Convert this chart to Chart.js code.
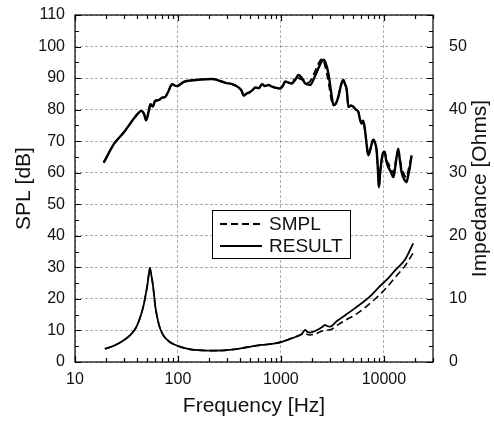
<!DOCTYPE html>
<html><head><meta charset="utf-8">
<script src="https://cdn.jsdelivr.net/npm/chart.js@4.4.1/dist/chart.umd.min.js"></script>
<style>html,body{margin:0;padding:0;background:#fff}</style>
</head><body>
<canvas id="c" width="494" height="421"></canvas>
<script>
// ---- data ----
const splFreq = [19, 24, 30, 37, 41, 44, 47, 49, 52, 54, 57, 60, 65, 70, 75, 80, 85, 88, 93, 98, 105, 114, 130, 160, 215, 260, 290, 335, 390, 415, 435, 460, 490, 530, 565, 610, 655, 700, 760, 820, 880, 985, 1040, 1100, 1180, 1280, 1380, 1480, 1600, 1720, 1830, 1920, 2100, 2310, 2480, 2590, 2700, 2890, 3120, 3240, 3400, 3615, 3850, 4045, 4200, 4360, 4520, 4800, 5050, 5350, 5650, 5850, 6085, 6300, 6555, 6800, 7060, 7400, 7890, 8200, 8500, 8750, 8950, 9200, 9500, 9850, 10240, 10600, 11040, 11600, 12340, 12800, 13290, 13790, 14300, 14860, 15700, 16600, 17200, 17890, 18560];
const splResult = [63.2, 69.2, 72.9, 77.0, 78.8, 79.6, 78.5, 76.6, 79.5, 81.7, 81.0, 82.8, 83.0, 83.8, 84.0, 85.5, 87.5, 88.1, 87.6, 87.5, 88.0, 88.8, 89.2, 89.5, 89.7, 89.0, 88.5, 88.1, 87.0, 86.0, 84.4, 85.0, 85.4, 86.2, 87.0, 86.8, 88.1, 87.5, 87.8, 87.3, 87.0, 86.7, 87.5, 88.9, 88.6, 88.3, 89.5, 91.0, 90.0, 88.3, 88.0, 87.8, 90.0, 93.1, 95.2, 95.8, 95.0, 91.5, 84.1, 81.4, 81.8, 84.1, 88.0, 89.4, 88.0, 86.2, 80.9, 81.3, 80.9, 80.0, 79.3, 77.0, 75.6, 76.5, 73.5, 69.0, 65.5, 67.5, 70.5, 69.5, 67.1, 61.0, 55.4, 60.0, 63.9, 66.5, 66.0, 63.5, 61.8, 60.5, 58.6, 61.0, 65.0, 67.6, 64.0, 60.2, 58.0, 57.0, 59.0, 61.8, 65.5];
const splSmpl   = [63.2, 69.2, 72.9, 77.0, 78.8, 79.6, 78.5, 76.6, 79.5, 81.7, 81.0, 82.8, 83.0, 83.8, 84.0, 85.5, 87.5, 88.1, 87.6, 87.5, 88.0, 88.8, 89.2, 89.5, 89.7, 89.0, 88.5, 88.1, 87.0, 86.0, 84.4, 85.0, 85.4, 86.2, 87.0, 86.8, 88.1, 87.5, 87.8, 87.3, 87.0, 86.7, 87.5, 88.9, 88.6, 88.3, 90.2, 90.0, 89.5, 89.5, 88.5, 89.0, 91.5, 94.5, 96.0, 95.5, 93.5, 89.0, 82.5, 81.4, 81.8, 84.1, 88.0, 89.4, 88.0, 86.2, 80.9, 81.3, 80.9, 80.0, 79.3, 77.0, 75.6, 76.5, 73.5, 69.0, 65.5, 67.5, 70.5, 69.5, 67.1, 61.0, 55.4, 60.0, 63.9, 66.5, 66.8, 64.0, 63.0, 61.5, 60.0, 62.0, 65.5, 66.5, 64.5, 61.5, 59.5, 58.5, 60.5, 63.0, 65.0];

const impFreq = [19.5, 24, 28.8, 33, 36, 39, 41.7, 44, 46.6, 48.5, 50.3, 52, 53.3, 54.5, 57, 60.5, 64, 67.6, 73, 81.5, 90, 102, 120, 137, 170, 214, 270, 335, 420, 523, 650, 816, 1000, 1185, 1400, 1597, 1718, 1800, 1923, 2200, 2500, 2687, 2800, 3005, 3500, 4200, 5250, 6300, 7605, 9000, 11040, 13000, 16000, 19270];
const impResult = [2.07, 2.6, 3.29, 4.0, 4.62, 5.4, 6.48, 7.6, 9.13, 10.6, 12.05, 13.8, 14.9, 14.2, 12.3, 8.6, 6.5, 5.15, 4.1, 3.29, 2.85, 2.49, 2.15, 1.96, 1.85, 1.80, 1.82, 1.96, 2.2, 2.49, 2.7, 2.87, 3.15, 3.56, 4.0, 4.46, 5.09, 4.8, 4.66, 5.0, 5.5, 5.88, 5.7, 5.61, 6.5, 7.4, 8.54, 9.5, 10.65, 11.9, 13.3, 14.6, 16.2, 18.8];
const impSmpl   = [2.07, 2.6, 3.29, 4.0, 4.62, 5.4, 6.48, 7.6, 9.13, 10.6, 12.05, 13.8, 14.9, 14.2, 12.3, 8.6, 6.5, 5.15, 4.1, 3.29, 2.85, 2.49, 2.15, 1.96, 1.85, 1.80, 1.82, 1.96, 2.2, 2.49, 2.7, 2.87, 3.15, 3.56, 4.0, 4.4, 4.6, 4.35, 4.29, 4.5, 4.9, 5.0, 5.05, 5.1, 5.8, 6.6, 7.47, 8.4, 9.5, 10.6, 12.1, 13.5, 15.2, 17.3];

const seriesLabels = ['SMPL', 'RESULT'];
const xMajorTicks = [10, 100, 1000, 10000];
const xTickLabels = ['10', '100', '1000', '10000'];
const splTicks = [0, 10, 20, 30, 40, 50, 60, 70, 80, 90, 100, 110];
const impTicks = [0, 10, 20, 30, 40, 50];
const xTitle = 'Frequency [Hz]';
const yTitle = 'SPL [dB]';
const y2Title = 'Impedance [Ohms]';

// ---- chart ----
const FONT = "'Liberation Sans', Arial, sans-serif";
Chart.defaults.font.family = FONT;
Chart.defaults.color = '#111';
const GRID = 'rgba(120,120,120,0.6)';
const toXY = (xs, ys) => xs.map((x, i) => ({x, y: ys[i]}));

// all x tick positions: 1..9 times each decade between 10 and 30000
const xAllTicks = [];
for (let d = 10; d <= 10000; d *= 10) for (let m = 1; m <= 9; m++) { const v = m * d; if (v <= 30000) xAllTicks.push(v); }

const frame = {
  id: 'frame',
  afterDatasetsDraw(chart) {
    const {ctx, chartArea: a, scales} = chart;
    ctx.save();
    ctx.strokeStyle = '#000'; ctx.lineWidth = 1.2;
    ctx.strokeRect(a.left, a.top, a.right - a.left, a.bottom - a.top);
    ctx.beginPath();
    xAllTicks.forEach(v => {
      const px = Math.round(scales.x.getPixelForValue(v)) + 0.5;
      const len = xMajorTicks.includes(v) ? 6 : 4;
      ctx.moveTo(px, a.bottom); ctx.lineTo(px, a.bottom - len);
      ctx.moveTo(px, a.top); ctx.lineTo(px, a.top + len);
    });
    for (let v = 0; v <= 110; v += 5) {
      const py = Math.round(scales.y.getPixelForValue(v)) + 0.5;
      const len = v % 10 === 0 ? 6 : 4;
      ctx.moveTo(a.left, py); ctx.lineTo(a.left + len, py);
      ctx.moveTo(a.right, py); ctx.lineTo(a.right - len, py);
    }
    ctx.stroke();
    // right axis title, read bottom-to-top
    ctx.fillStyle = '#111';
    ctx.font = '21px ' + FONT;
    ctx.textAlign = 'center'; ctx.textBaseline = 'middle';
    ctx.translate(480, (a.top + a.bottom) / 2);
    ctx.rotate(-Math.PI / 2);
    ctx.fillText(y2Title, 0, 0);
    ctx.restore();
    // legend box
    ctx.save();
    const bx = 212.5, by = 210.5, bw = 138, bh = 48;
    ctx.fillStyle = '#fff'; ctx.fillRect(bx, by, bw, bh);
    ctx.strokeStyle = '#000'; ctx.lineWidth = 1; ctx.strokeRect(bx, by, bw, bh);
    const rows = [{ds: chart.data.datasets[1], y: 224}, {ds: chart.data.datasets[0], y: 246}];
    rows.forEach(r => {
      ctx.beginPath();
      ctx.setLineDash(r.ds.borderDash || []);
      ctx.lineWidth = 1.8; ctx.strokeStyle = '#000';
      ctx.moveTo(220, r.y); ctx.lineTo(262, r.y); ctx.stroke();
      ctx.setLineDash([]);
      ctx.fillStyle = '#111'; ctx.font = '19px ' + FONT;
      ctx.textAlign = 'left'; ctx.textBaseline = 'middle';
      ctx.fillText(r.ds.label, 269, r.y + 1);
    });
    ctx.restore();
  }
};

new Chart(document.getElementById('c'), {
  type: 'line',
  data: {
    datasets: [
      {label: seriesLabels[1], data: toXY(splFreq, splResult), yAxisID: 'y', borderColor: '#000', borderWidth: 2.4},
      {label: seriesLabels[0], data: toXY(splFreq, splSmpl), yAxisID: 'y', borderColor: '#000', borderWidth: 1.8, borderDash: [7, 4]},
      {label: seriesLabels[1], data: toXY(impFreq, impResult), yAxisID: 'y2', borderColor: '#000', borderWidth: 1.8},
      {label: seriesLabels[0], data: toXY(impFreq, impSmpl), yAxisID: 'y2', borderColor: '#000', borderWidth: 1.6, borderDash: [7, 4]}
    ]
  },
  options: {
    responsive: false, animation: false, devicePixelRatio: 1,
    layout: {padding: {top: 15, left: 0, right: 0, bottom: 0}},
    plugins: {legend: {display: false}, tooltip: {enabled: false}},
    elements: {point: {radius: 0}, line: {cubicInterpolationMode: 'monotone', fill: false}},
    scales: {
      x: {
        type: 'logarithmic', min: 10, max: 30000,
        afterBuildTicks: s => { s.ticks = xAllTicks.map(v => ({value: v})); },
        afterFit: s => { s.height = 59; s.paddingLeft = 0; s.paddingRight = 0; },
        ticks: {autoSkip: false, maxRotation: 0, padding: 8, font: {size: 16},
          callback: v => { const i = xMajorTicks.indexOf(v); return i >= 0 ? xTickLabels[i] : ''; }},
        grid: {drawTicks: false, lineWidth: 1, color: c => (c.tick && xMajorTicks.includes(c.tick.value)) ? GRID : 'rgba(0,0,0,0)'},
        border: {display: false, dash: [3, 2]},
        title: {display: true, text: xTitle, font: {size: 21}, padding: {top: 0, bottom: 2}}
      },
      y: {
        position: 'left', min: 0, max: 110,
        afterBuildTicks: s => { s.ticks = splTicks.map(v => ({value: v})); },
        afterFit: s => { s.width = 75; s.paddingTop = 0; s.paddingBottom = 0; },
        ticks: {padding: 10, font: {size: 16}},
        grid: {drawTicks: false, lineWidth: 1, color: GRID},
        border: {display: false, dash: [3, 2]},
        title: {display: true, text: yTitle, font: {size: 21}, padding: {top: 12, bottom: 0}}
      },
      y2: {
        position: 'right', min: 0, max: 55,
        afterBuildTicks: s => { s.ticks = impTicks.map(v => ({value: v})); },
        afterFit: s => { s.width = 61; s.paddingTop = 0; s.paddingBottom = 0; },
        ticks: {padding: 8, font: {size: 16}},
        grid: {display: false},
        border: {display: false}
      }
    }
  },
  plugins: [frame]
});
</script>
</body></html>
